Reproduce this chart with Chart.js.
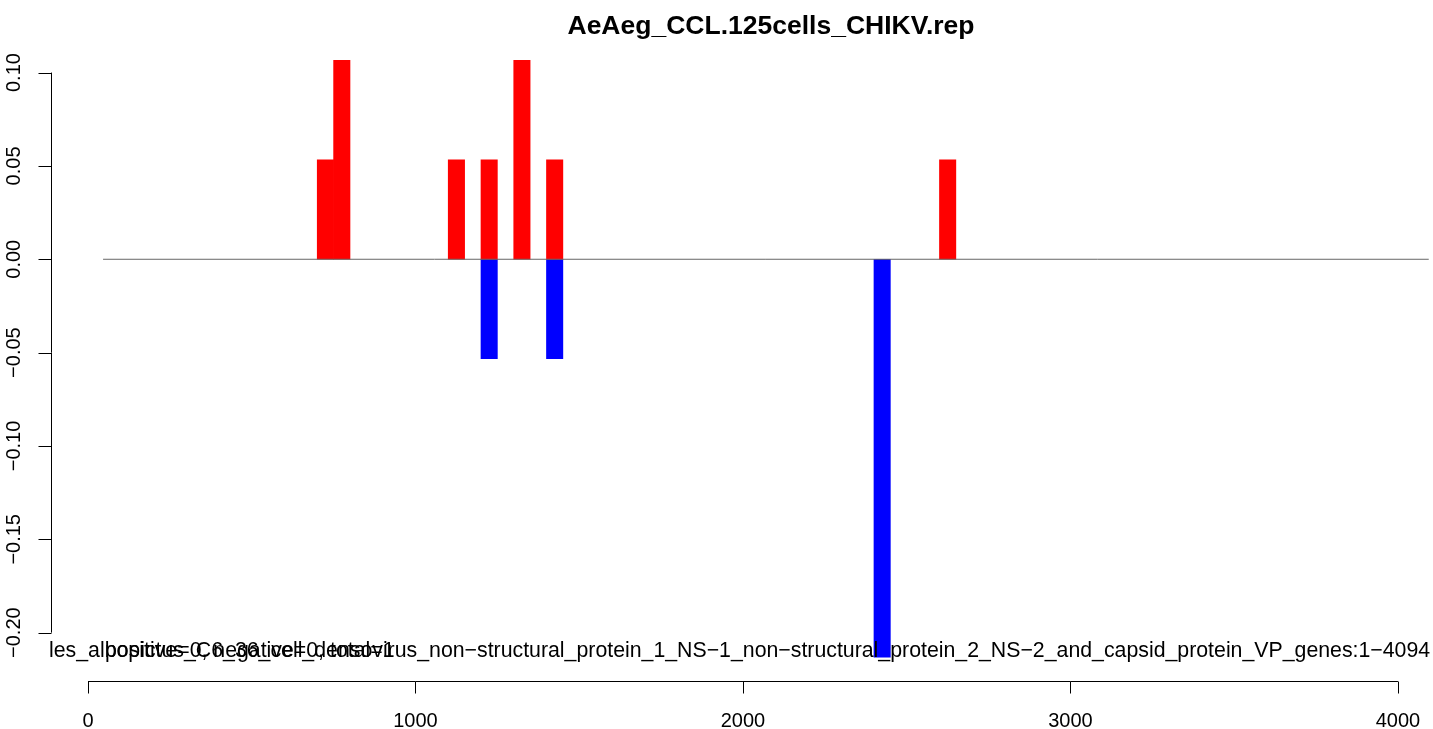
<!DOCTYPE html>
<html>
<head>
<meta charset="utf-8">
<title>AeAeg_CCL.125cells_CHIKV.rep</title>
<script src="https://cdn.jsdelivr.net/npm/chart.js@4.4.1/dist/chart.umd.min.js"></script>
<style>
  html, body { margin: 0; padding: 0; background: #fff; }
  canvas { display: block; }
</style>
</head>
<body>
<canvas id="repChart" width="1433" height="729"></canvas>
<script>
// read counts per 50-nt bin (bin centres), scaled
const plusPos = [725, 775, 1125, 1225, 1325, 1425, 2625];
const plusVal = [0.0533, 0.1066, 0.0533, 0.0533, 0.1066, 0.0533, 0.0533];
const minusPos = [1225, 1425, 2425];
const minusVal = [-0.0533, -0.0533, -0.2132];

// baseline across the genome
const baseX = [46, 4094];
const baseY = [0, 0];

const xTicks = [0, 1000, 2000, 3000, 4000];
const yTicks = [0.10, 0.05, 0.00, -0.05, -0.10, -0.15, -0.20];

const mainTitle = 'AeAeg_CCL.125cells_CHIKV.rep';
const refName = 'les_albopictus_C6_36_cell_densovirus_non\u2212structural_protein_1_NS\u22121_non\u2212structural_protein_2_NS\u22122_and_capsid_protein_VP_genes:1\u22124094';
const countText = 'positive=0, negative=0, total=1';

const FONT = '"Liberation Sans", Arial, Helvetica, sans-serif';

function fmtY(v) {
  const s = v.toFixed(2);
  return s.replace('-', '\u2212');
}

// R-style axes and annotations drawn on top of the chart
const baseAxes = {
  id: 'baseAxes',
  afterDraw(chart) {
    const ctx = chart.ctx;
    const xs = chart.scales.x;
    const ys = chart.scales.y;
    ctx.save();
    ctx.strokeStyle = '#000';
    ctx.fillStyle = '#000';
    ctx.lineWidth = 1;

    // y axis
    const axX = 51.5;
    const yTop = ys.getPixelForValue(yTicks[0]);
    const yBot = ys.getPixelForValue(yTicks[yTicks.length - 1]);
    ctx.beginPath();
    ctx.moveTo(axX, yTop);
    ctx.lineTo(axX, yBot);
    yTicks.forEach(t => {
      const py = Math.round(ys.getPixelForValue(t)) + 0.5;
      ctx.moveTo(axX, py);
      ctx.lineTo(axX - 13, py);
    });
    ctx.stroke();
    ctx.font = '20px ' + FONT;
    ctx.textAlign = 'center';
    ctx.textBaseline = 'alphabetic';
    yTicks.forEach(t => {
      const py = ys.getPixelForValue(t);
      ctx.save();
      ctx.translate(20, py);
      ctx.rotate(-Math.PI / 2);
      ctx.fillText(fmtY(t), 0, 0);
      ctx.restore();
    });

    // x axis
    const axY = 681.5;
    const xL = xs.getPixelForValue(xTicks[0]);
    const xR = xs.getPixelForValue(xTicks[xTicks.length - 1]);
    ctx.beginPath();
    ctx.moveTo(xL, axY);
    ctx.lineTo(xR, axY);
    xTicks.forEach(t => {
      const px = Math.round(xs.getPixelForValue(t)) + 0.5;
      ctx.moveTo(px, axY);
      ctx.lineTo(px, axY + 12);
    });
    ctx.stroke();
    xTicks.forEach(t => {
      ctx.fillText(String(t), xs.getPixelForValue(t), 726.5);
    });

    // title
    ctx.font = 'bold 26.5px ' + FONT;
    ctx.fillText(mainTitle, 771, 34);

    // reference name and counts
    ctx.font = '21.3px ' + FONT;
    ctx.textAlign = 'left';
    ctx.fillText(refName, 49, 657);
    ctx.fillText(countText, 105, 657);
    ctx.restore();
  }
};

new Chart(document.getElementById('repChart').getContext('2d'), {
  type: 'bar',
  data: {
    datasets: [
      {
        type: 'line',
        data: baseX.map((x, i) => ({ x: x, y: baseY[i] })),
        borderColor: '#666666',
        borderWidth: 1,
        pointRadius: 0,
        fill: false,
        order: 0
      },
      {
        label: 'plus',
        data: plusPos.map((x, i) => ({ x: x, y: plusVal[i] })),
        backgroundColor: '#ff0000',
        borderWidth: 0,
        barPercentage: 1,
        categoryPercentage: 1,
        order: 1
      },
      {
        label: 'minus',
        data: minusPos.map((x, i) => ({ x: x, y: minusVal[i] })),
        backgroundColor: '#0000ff',
        borderWidth: 0,
        barPercentage: 1,
        categoryPercentage: 1,
        order: 1
      }
    ]
  },
  options: {
    responsive: false,
    devicePixelRatio: 1,
    animation: false,
    layout: { padding: { left: 88, right: 0, top: 36, bottom: 48 } },
    plugins: {
      legend: { display: false },
      tooltip: { enabled: false },
      title: { display: false }
    },
    scales: {
      x: { type: 'linear', min: 0, max: 4107, offset: false, stacked: true, display: false },
      y: { min: -0.2259, max: 0.1196, offset: false, stacked: true, display: false }
    }
  },
  plugins: [baseAxes]
});
</script>
</body>
</html>
